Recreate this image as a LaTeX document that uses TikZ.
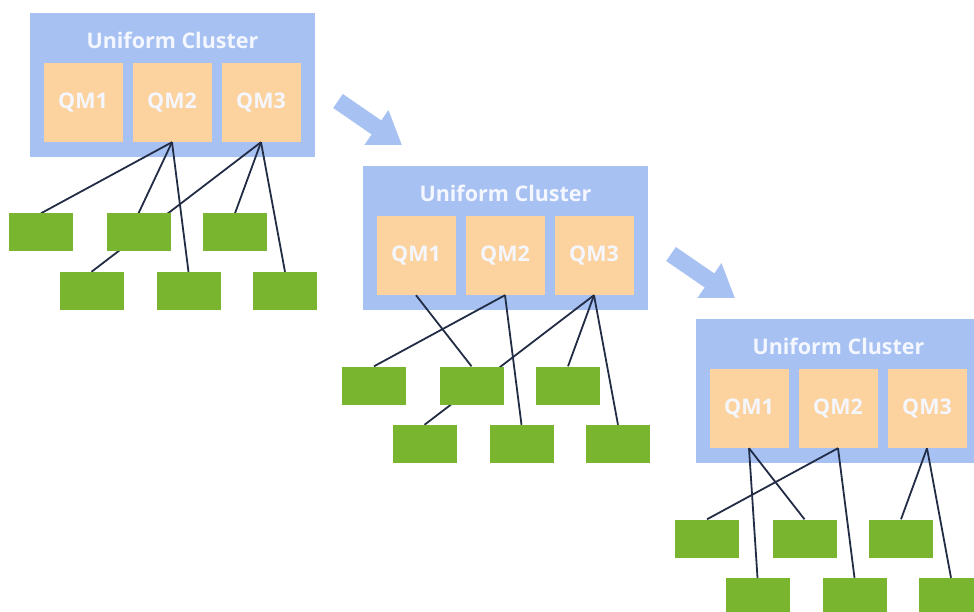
\documentclass[tikz,border=0pt]{standalone}
\usepackage{fontspec}
\setmainfont{Open Sans}
\usepackage{tikz}
\definecolor{clusterblue}{RGB}{167, 193, 242}
\definecolor{qmpeach}{RGB}{252, 210, 159}
\definecolor{appgreen}{RGB}{122, 181, 48}
\definecolor{linknavy}{RGB}{34, 44, 68}
\definecolor{labelwhite}{RGB}{244, 247, 255}
\usetikzlibrary{arrows.meta, positioning}
\pgfdeclarelayer{front}
\pgfsetlayers{main,front}

\begin{document}
\begin{tikzpicture}[
    x=1pt, y=-1pt,
    cluster/.style={rectangle, fill=clusterblue, minimum width=285pt, minimum height=144pt, inner sep=0pt},
    clustertitle/.style={text=labelwhite, font=\bfseries\fontsize{21.5}{24}\selectfont},
    qm/.style={rectangle, fill=qmpeach, minimum width=79pt, minimum height=79pt, inner sep=0pt, text=labelwhite, font=\bfseries\fontsize{21.5}{24}\selectfont},
    app/.style={rectangle, fill=appgreen, minimum width=64pt, minimum height=38pt, inner sep=0pt},
    link/.style={draw=linknavy, line width=1.8pt},
    shiftarrow/.style={draw=clusterblue, line width=17pt, -{Triangle[width=40pt, length=31pt]}}
]
    \useasboundingbox (0,0) rectangle (974,612);
    \clip (0,0) rectangle (974,612);

    % First cluster
    \node[cluster] (c1) at (172.5, 85) {};
    \node[clustertitle] (c1title) at (172.5, 40) {Uniform Cluster};
    \node[qm] (c1qm1) at (83, 102.5) {QM1};
    \node[qm] (c1qm2) at (172, 102.5) {QM2};
    \node[qm] (c1qm3) at (261, 102.5) {QM3};
    \begin{pgfonlayer}{front}
    \node[app] (c1a) at (41, 232.5) {};
    \node[app] (c1b) at (138.5, 232.5) {};
    \node[app] (c1c) at (235, 232.5) {};
    \node[app] (c1d) at (91.5, 291) {};
    \node[app] (c1e) at (188.5, 291) {};
    \node[app] (c1f) at (285, 291) {};
    \end{pgfonlayer}

    % Second cluster
    \node[cluster] (c2) at (505.5, 238) {};
    \node[clustertitle] (c2title) at (505.5, 193) {Uniform Cluster};
    \node[qm] (c2qm1) at (416, 255.5) {QM1};
    \node[qm] (c2qm2) at (505, 255.5) {QM2};
    \node[qm] (c2qm3) at (594, 255.5) {QM3};
    \begin{pgfonlayer}{front}
    \node[app] (c2a) at (374, 385.5) {};
    \node[app] (c2b) at (471.5, 385.5) {};
    \node[app] (c2c) at (568, 385.5) {};
    \node[app] (c2d) at (424.5, 444) {};
    \node[app] (c2e) at (521.5, 444) {};
    \node[app] (c2f) at (618, 444) {};
    \end{pgfonlayer}

    % Third cluster
    \node[cluster] (c3) at (838.5, 391) {};
    \node[clustertitle] (c3title) at (838.5, 346) {Uniform Cluster};
    \node[qm] (c3qm1) at (749, 408.5) {QM1};
    \node[qm] (c3qm2) at (838, 408.5) {QM2};
    \node[qm] (c3qm3) at (927, 408.5) {QM3};
    \begin{pgfonlayer}{front}
    \node[app] (c3a) at (707, 538.5) {};
    \node[app] (c3b) at (804.5, 538.5) {};
    \node[app] (c3c) at (901, 538.5) {};
    \node[app] (c3d) at (757.5, 597) {};
    \node[app] (c3e) at (854.5, 597) {};
    \node[app] (c3f) at (951, 597) {};
    \end{pgfonlayer}

    % Links
    \draw[link] (c1qm2.south) -- (c1a.north);
    \draw[link] (c1qm2.south) -- (c1b.north);
    \draw[link] (c1qm2.south) -- (c1e.north);
    \draw[link] (c1qm3.south) -- (c1d.north);
    \draw[link] (c1qm3.south) -- (c1c.north);
    \draw[link] (c1qm3.south) -- (c1f.north);

    \draw[link] (c2qm1.south) -- (c2b.north);
    \draw[link] (c2qm2.south) -- (c2a.north);
    \draw[link] (c2qm2.south) -- (c2e.north);
    \draw[link] (c2qm3.south) -- (c2d.north);
    \draw[link] (c2qm3.south) -- (c2c.north);
    \draw[link] (c2qm3.south) -- (c2f.north);

    \draw[link] (c3qm1.south) -- (c3b.north);
    \draw[link] (c3qm1.south) -- (c3d.north);
    \draw[link] (c3qm2.south) -- (c3a.north);
    \draw[link] (c3qm2.south) -- (c3e.north);
    \draw[link] (c3qm3.south) -- (c3c.north);
    \draw[link] (c3qm3.south) -- (c3f.north);

    % Arrows
    \coordinate (step1start) at (338, 101);
    \coordinate (step1end) at (402, 145);
    \coordinate (step2start) at (671, 254);
    \coordinate (step2end) at (735, 298);
    \draw[shiftarrow] (step1start) -- (step1end);
    \draw[shiftarrow] (step2start) -- (step2end);
\end{tikzpicture}
\end{document}
